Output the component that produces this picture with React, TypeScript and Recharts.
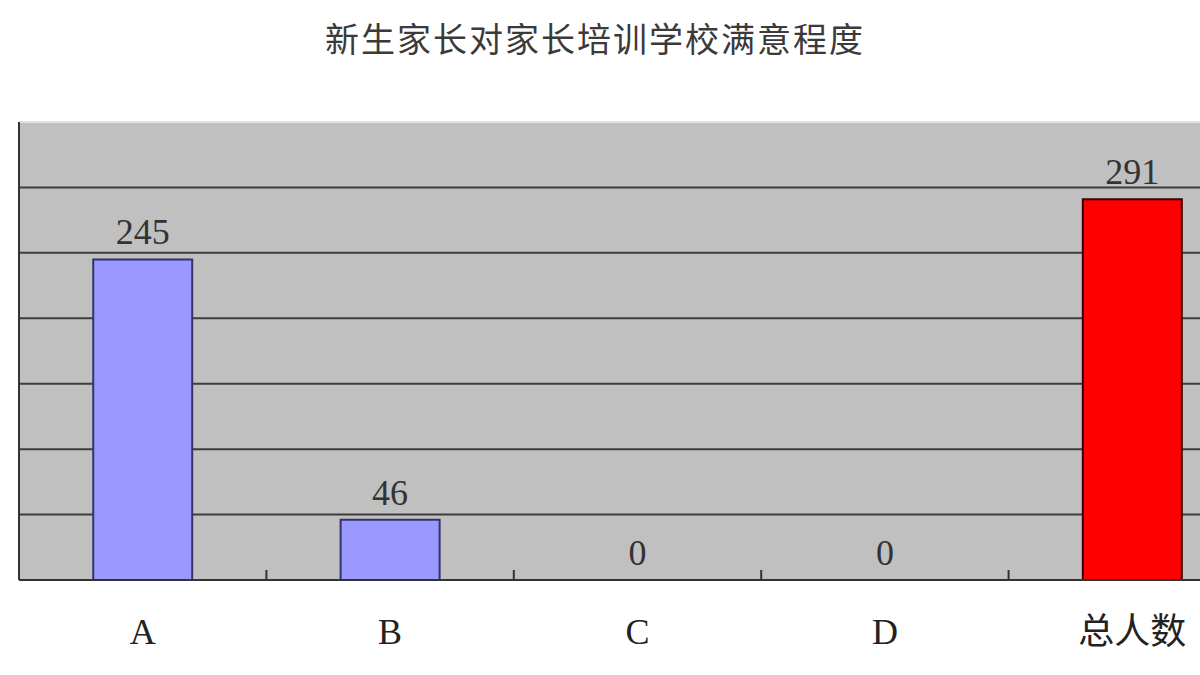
import React from 'react';
import { BarChart, Bar, XAxis, YAxis, Cell, CartesianGrid, ReferenceLine, ReferenceDot } from 'recharts';

const TITLE = '新生家长对家长培训学校满意程度';
const categories = ['A', 'B', 'C', 'D', '总人数'];
const counts = [245, 46, 0, 0, 291];
const barColors = ['#9999FF', '#9999FF', '#9999FF', '#9999FF', '#FF0000'];
const barStrokes = ['#33336a', '#33336a', '#33336a', '#33336a', '#3a0000'];
const yTicks = [0, 50, 100, 150, 200, 250, 300];
const Y_MAX = 350;

const data = categories.map((name, i) => ({ name, value: counts[i] }));

const FONT = "'Liberation Serif', 'Noto Sans CJK SC', serif";

// category label plus a short upward tick at the left edge of each band (Excel style)
function BandTick(props: any) {
  const { x, y, payload, index } = props;
  const half = payload && payload.offset ? payload.offset : 0;
  return (
    <g>
      {index > 0 && half > 0 && (
        <line x1={x - half} x2={x - half} y1={y - 38} y2={y - 48} stroke="#333" strokeWidth={2} />
      )}
      <text x={x} y={y} dy="0.71em" textAnchor="middle" fill="#222" fontSize={36} fontFamily={FONT}>
        {payload.value}
      </text>
    </g>
  );
}

const NoTick = () => <g />;

export default function App() {
  return (
    <div style={{ position: 'fixed', top: 0, left: 0, width: 1200, height: 675, overflow: 'hidden', background: '#fff' }}>
      {/* title */}
      <div
        style={{
          position: 'absolute',
          top: 21,
          left: 0,
          width: 1190,
          textAlign: 'center',
          fontFamily: "'Noto Sans CJK SC', sans-serif",
          fontSize: 34,
          lineHeight: '34px',
          letterSpacing: 2,
          color: '#3a3a3a',
        }}
      >
        {TITLE}
      </div>

      <div style={{ position: 'absolute', top: 0, left: 0 }}>
        <BarChart
          width={1280}
          height={675}
          data={data}
          margin={{ top: 122, right: 24, bottom: 0, left: 18 }}
          barCategoryGap="30%"
        >
          <CartesianGrid
            xAxisId="cat"
            yAxisId="v"
            vertical={false}
            fill="#c0c0c0"
            stroke="#3c3c3c"
            strokeWidth={2}
          />
          <XAxis
            xAxisId="cat"
            dataKey="name"
            height={95}
            tickLine={false}
            tickSize={0}
            tickMargin={38}
            axisLine={{ stroke: '#333', strokeWidth: 2 }}
            tick={<BandTick />}
            interval={0}
          />
          <YAxis
            yAxisId="v"
            domain={[0, Y_MAX]}
            ticks={yTicks}
            width={1}
            tick={NoTick}
            tickLine={false}
            axisLine={{ stroke: '#333', strokeWidth: 2 }}
          />
          <ReferenceLine xAxisId="cat" yAxisId="v" y={Y_MAX} stroke="#e2e2e2" strokeWidth={2} />
          <Bar xAxisId="cat" yAxisId="v" dataKey="value" isAnimationActive={false} strokeWidth={2}>
            {data.map((d, i) => (
              <Cell key={d.name} fill={barColors[i]} stroke={barStrokes[i]} />
            ))}
          </Bar>
          {/* value labels */}
          {data.map((d) => (
            <ReferenceDot
              key={`l${d.name}`}
              xAxisId="cat"
              yAxisId="v"
              x={d.name}
              y={d.value}
              r={1}
              fill="none"
              stroke="none"
              label={{ value: String(d.value), position: 'top', offset: 14, fill: '#333', fontSize: 36, fontFamily: FONT }}
            />
          ))}
        </BarChart>
      </div>
    </div>
  );
}
